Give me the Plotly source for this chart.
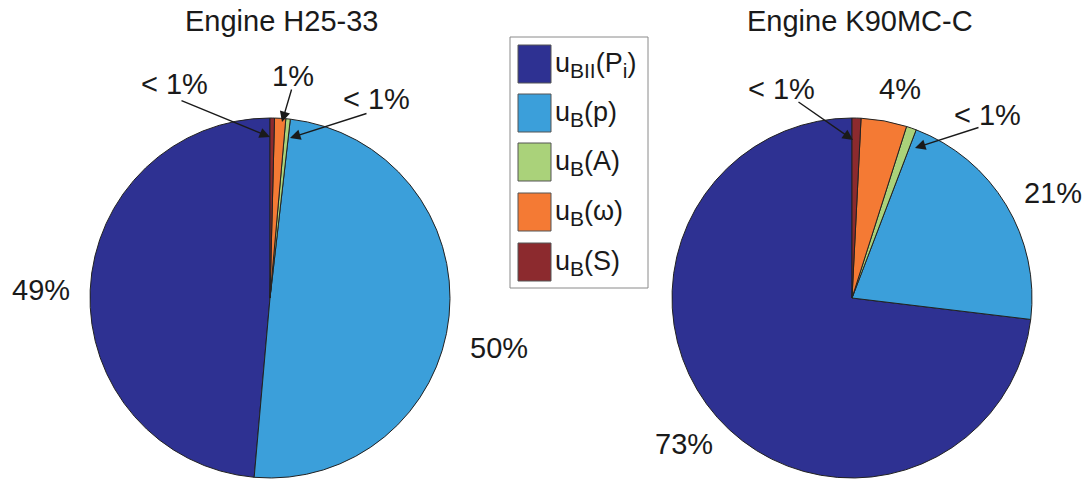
import plotly.graph_objects as go

# ---- data -------------------------------------------------------------
components = ["u_BII(P_i)", "u_B(p)", "u_B(A)", "u_B(omega)", "u_B(S)"]
legend_labels = [
    "u<sub><span style='font-size:21px'>BII</span></sub>(P<sub><span style='font-size:21px'>i</span></sub>)",
    "u<sub><span style='font-size:21px'>B</span></sub>(p)",
    "u<sub><span style='font-size:21px'>B</span></sub>(A)",
    "u<sub><span style='font-size:21px'>B</span></sub>(ω)",
    "u<sub><span style='font-size:21px'>B</span></sub>(S)",
]
share_h25 = [48.6, 49.6, 0.4, 1.0, 0.4]     # Engine H25-33, percent
share_k90 = [73.1, 21.1, 0.9, 4.1, 0.8]     # Engine K90MC-C, percent
titles = ["Engine H25-33", "Engine K90MC-C"]
colors = ["#2E3192", "#3B9FDA", "#AAD27A", "#F47A34", "#8C2A2E"]

# ---- layout geometry (pixels) ----------------------------------------
W, H = 1088, 479
TOP, BOT = 118, 1
PLOT_H = H - TOP - BOT
R = 180
centers_x = [270, 852]

FONT = "Liberation Sans, Arial, sans-serif"
TXT = "#1a1a1a"


def px(x):
    return x / W


def py(y):
    return (H - BOT - y) / PLOT_H


def fmt(v):
    return "< 1%" if v < 1 else f"{v:.0f}%"


# label centres for each slice, in order of `components`
label_pos = [
    [(41, 290), (499, 348), (376, 99), (293, 76), (174, 84)],
    [(684, 444), (1053, 193), (987, 115), (900, 89), (781, 89)],
]
# leader arrows: (slice index, tail, head)
arrows = [
    [(4, (180, 100), (270, 137)), (3, (292, 88), (282, 122)), (2, (368, 113), (290, 138))],
    [(4, (797, 101), (853, 140)), (2, (980, 127), (915, 148))],
]

fig = go.Figure()
for k, shares in enumerate([share_h25, share_k90]):
    cx = centers_x[k]
    # first slice runs counterclockwise from 12 o'clock, the rest follow it
    start = -360.0 * shares[0] / sum(shares)
    fig.add_trace(go.Pie(
        values=shares,
        labels=components,
        sort=False,
        direction="counterclockwise",
        rotation=start,
        textinfo="none",
        hoverinfo="label+percent",
        showlegend=False,
        marker=dict(colors=colors, line=dict(color="#222222", width=1)),
        domain=dict(x=[px(cx - R), px(cx + R)], y=[0, 1]),
    ))

annotations = []
for k, shares in enumerate([share_h25, share_k90]):
    # titles
    annotations.append(dict(
        x=px([281, 860][k]), y=py(21), xref="paper", yref="paper",
        text=titles[k], showarrow=False, xanchor="center", yanchor="middle",
        font=dict(family=FONT, size=29, color=TXT),
    ))
    # percentage labels
    for i, v in enumerate(shares):
        x, y = label_pos[k][i]
        annotations.append(dict(
            x=px(x), y=py(y), xref="paper", yref="paper",
            text=fmt(v), showarrow=False, xanchor="center", yanchor="middle",
            font=dict(family=FONT, size=29, color=TXT),
        ))
    # leader arrows
    for i, (tx, ty), (hx, hy) in arrows[k]:
        annotations.append(dict(
            x=px(hx), y=py(hy), xref="paper", yref="paper",
            ax=tx - hx, ay=ty - hy, text="", showarrow=True,
            arrowhead=2, arrowsize=1.5, arrowwidth=1.4, arrowcolor=TXT,
            standoff=0, startstandoff=0,
        ))

# legend box
shapes = [dict(
    type="rect", xref="paper", yref="paper",
    x0=px(510), x1=px(648), y0=py(288), y1=py(37),
    line=dict(color="#8a8a8a", width=1), fillcolor="white", layer="above",
)]
legend_y = [64, 113, 162, 212, 262]
for i, c in enumerate(colors):
    yc = legend_y[i]
    shapes.append(dict(
        type="rect", xref="paper", yref="paper",
        x0=px(518), x1=px(551), y0=py(yc + 19), y1=py(yc - 19),
        line=dict(color="#555555", width=1), fillcolor=c, layer="above",
    ))
    annotations.append(dict(
        x=px(553), y=py(yc + 1), xref="paper", yref="paper",
        text=legend_labels[i], showarrow=False, xanchor="left", yanchor="middle",
        font=dict(family=FONT, size=27, color=TXT),
    ))

fig.update_layout(
    width=W, height=H,
    margin=dict(l=0, r=0, t=TOP, b=BOT, pad=0),
    paper_bgcolor="white", plot_bgcolor="white",
    annotations=annotations, shapes=shapes,
)

fig.write_html("out.html")
